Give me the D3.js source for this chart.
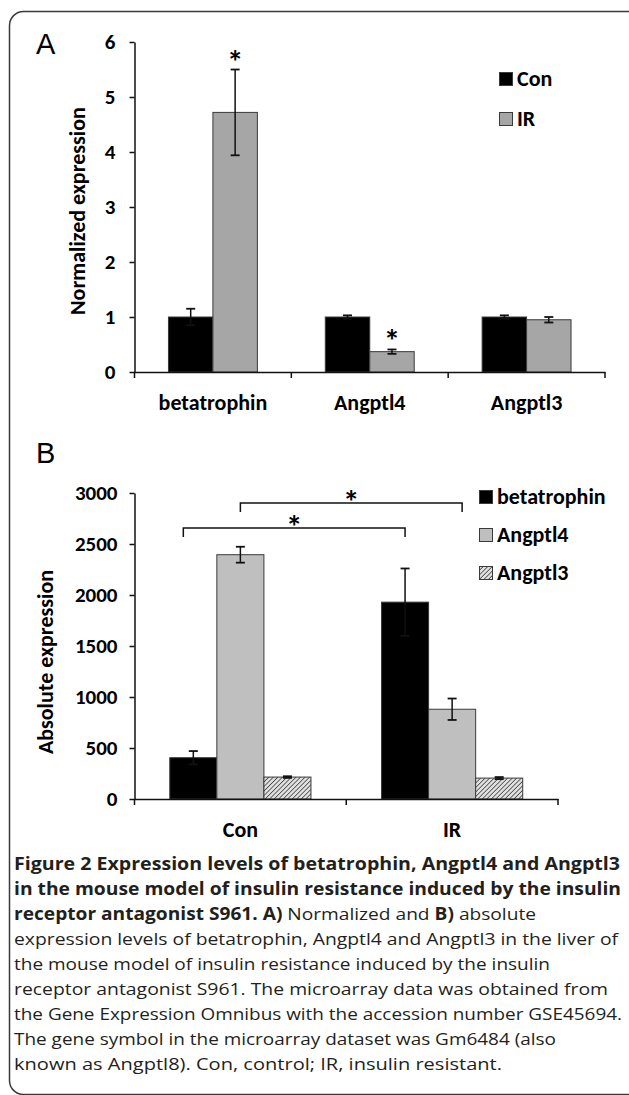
<!DOCTYPE html>
<html>
<head>
<meta charset="utf-8">
<script src="https://cdn.jsdelivr.net/npm/d3@7"></script>
<style>
  body { margin: 0; background: #fff; }
  svg { display: block; }
  .chart text { font-family: Carlito, Lato, "Open Sans", sans-serif; font-weight: bold; fill: #000; }
  .caption { font-family: "Open Sans", "Noto Sans", sans-serif; font-size: 17px; fill: #231f20; }
</style>
</head>
<body>
<svg id="fig" width="629" height="1095"></svg>
<script>
// panel A: normalized expression
const genesA = ["betatrophin", "Angptl4", "Angptl3"];
const groupsA = ["Con", "IR"];
const conA = [1, 1, 1];
const conErrA = [0.15, 0.03, 0.03];
const irA = [4.72, 0.37, 0.95];
const irErrA = [0.78, 0.04, 0.05];
const starsA = [[0, "IR"], [1, "IR"]];
const ticksA = [0, 1, 2, 3, 4, 5, 6];

// panel B: absolute expression
const groupsB = ["Con", "IR"];
const genesB = ["betatrophin", "Angptl4", "Angptl3"];
const betaB = [405, 1930];
const betaErrB = [65, 330];
const a4B = [2395, 880];
const a4ErrB = [78, 105];
const a3B = [215, 205];
const a3ErrB = [8, 10];
const ticksB = [0, 500, 1000, 1500, 2000, 2500, 3000];
// significance brackets: [group, gene] -> [group, gene]
const bracketsB = [
  [["Con", "betatrophin"], ["IR", "betatrophin"]],
  [["Con", "Angptl4"], ["IR", "Angptl4"]]
];

const captionLines = [
  [["Figure 2 Expression levels of betatrophin, Angptl4 and Angptl3", true]],
  [["in the mouse model of insulin resistance induced by the insulin", true]],
  [["receptor antagonist S961. A)", true], [" Normalized and ", false], ["B)", true], [" absolute", false]],
  [["expression levels of betatrophin, Angptl4 and Angptl3 in the liver of", false]],
  [["the mouse model of insulin resistance induced by the insulin", false]],
  [["receptor antagonist S961. The microarray data was obtained from", false]],
  [["the Gene Expression Omnibus with the accession number GSE45694.", false]],
  [["The gene symbol in the microarray dataset was Gm6484 (also", false]],
  [["known as Angptl8). Con, control; IR, insulin resistant.", false]]
];
const captionEnds = [620, 621, 536, 618, 550, 608, 622, 556, 502];

const svg = d3.select("#fig");

// frame (right and bottom edges run off the page)
svg.append("rect")
  .attr("x", 9.5).attr("y", 11.5)
  .attr("width", 640).attr("height", 1083)
  .attr("rx", 14)
  .attr("fill", "none")
  .attr("stroke", "#3a3a3a")
  .attr("stroke-width", 1.5);

const defs = svg.append("defs");
const hatch = defs.append("pattern")
  .attr("id", "hatch")
  .attr("patternUnits", "userSpaceOnUse")
  .attr("width", 3.2).attr("height", 3.2)
  .attr("patternTransform", "rotate(45)");
hatch.append("rect").attr("width", 3.2).attr("height", 3.2).attr("fill", "#e0e0e0");
hatch.append("line").attr("x1", 0).attr("y1", 0).attr("x2", 0).attr("y2", 3.2)
  .attr("stroke", "#3c3c3c").attr("stroke-width", 1.5);

const chart = svg.append("g").attr("class", "chart");

const errorBar = (g, cx, top, bottom) => {
  g.append("line").attr("x1", cx).attr("x2", cx).attr("y1", top).attr("y2", bottom)
    .attr("stroke", "#111").attr("stroke-width", 1.5);
  [top, bottom].forEach(yy => {
    g.append("line").attr("x1", cx - 4.5).attr("x2", cx + 4.5).attr("y1", yy).attr("y2", yy)
      .attr("stroke", "#111").attr("stroke-width", 1.8);
  });
}

const styleAxis = (ax, size) => {
  ax.select(".domain").attr("stroke", "#111").attr("stroke-width", 1.5);
  ax.selectAll(".tick line").attr("stroke", "#111").attr("stroke-width", 1.5);
  ax.selectAll(".tick text").style("font-size", size);
}

// ---------- Panel A ----------
{
  const g = chart.append("g");
  const x = d3.scaleBand().domain(genesA).range([134.5, 605]);
  const xs = d3.scaleBand().domain(groupsA).range([0, x.bandwidth()]).paddingOuter(0.764);
  const y = d3.scaleLinear().domain([0, 6]).range([372, 42]);

  const rows = genesA.map((gene, i) => ({
    gene,
    vals: [
      {grp: "Con", v: conA[i], e: conErrA[i], fill: "#000"},
      {grp: "IR", v: irA[i], e: irErrA[i], fill: "#a6a6a6"}
    ]
  }));

  g.append("text").attr("x", 36).attr("y", 54)
    .style("font-family", "'Liberation Sans', Arial, sans-serif")
    .style("font-weight", "normal").style("font-size", "29px").text("A");

  const bars = g.append("g");
  rows.forEach(r => {
    r.vals.forEach(d => {
      const bx = x(r.gene) + xs(d.grp);
      bars.append("rect")
        .attr("x", bx).attr("y", y(d.v))
        .attr("width", xs.bandwidth()).attr("height", y(0) - y(d.v))
        .attr("fill", d.fill).attr("stroke", "#3a3a3a").attr("stroke-width", 1);
      errorBar(bars, bx + xs.bandwidth() / 2, y(d.v + d.e), y(d.v - d.e));
    });
  });

  starsA.forEach(([i, grp]) => {
    const d = rows[i].vals.find(v => v.grp === grp);
    g.append("text")
      .attr("x", x(genesA[i]) + xs(grp) + xs.bandwidth() / 2)
      .attr("y", y(d.v + d.e) + 3)
      .attr("text-anchor", "middle").style("font-size", "33px").text("*");
  });

  const yAxis = g.append("g").attr("transform", "translate(134.5,0)")
    .call(d3.axisLeft(y).tickValues(ticksA).tickFormat(d3.format("d"))
      .tickSize(5).tickSizeOuter(0).tickPadding(14));
  styleAxis(yAxis, "21px");

  const xAxis = g.append("g").attr("transform", `translate(0,${y(0)})`)
    .call(d3.axisBottom(x).tickSize(0).tickPadding(22));
  styleAxis(xAxis, "22px");
  const bounds = x.domain().map(d => x(d)).concat([x.range()[1]]);
  g.append("g").selectAll("line").data(bounds).join("line")
    .attr("x1", d => d).attr("x2", d => d).attr("y1", y(0)).attr("y2", y(0) + 6)
    .attr("stroke", "#111").attr("stroke-width", 1.5);

  g.append("text")
    .attr("transform", `translate(85,${(y(0) + y(6)) / 2 + 4}) rotate(-90)`)
    .attr("text-anchor", "middle").style("font-size", "22px").text("Normalized expression");

  const leg = g.append("g").attr("transform", "translate(499,0)");
  [["Con", "#000", 79], ["IR", "#a6a6a6", 119]].forEach(([lab, col, cy]) => {
    leg.append("rect").attr("x", 0.5).attr("y", cy - 6.5).attr("width", 13).attr("height", 13)
      .attr("fill", col).attr("stroke", "#3a3a3a").attr("stroke-width", 1);
    leg.append("text").attr("x", 18).attr("y", cy + 7).style("font-size", "22px").text(lab);
  });
}

// ---------- Panel B ----------
{
  const g = chart.append("g");
  const x = d3.scaleBand().domain(groupsB).range([134.5, 558]);
  const xs = d3.scaleBand().domain(genesB).range([0, x.bandwidth()]).paddingOuter(0.75);
  const y = d3.scaleLinear().domain([0, 3000]).range([799, 493]);

  const series = [
    {gene: "betatrophin", vals: betaB, errs: betaErrB, fill: "#000"},
    {gene: "Angptl4", vals: a4B, errs: a4ErrB, fill: "#bfbfbf"},
    {gene: "Angptl3", vals: a3B, errs: a3ErrB, fill: "url(#hatch)"}
  ];
  const center = (grp, gene) => x(grp) + xs(gene) + xs.bandwidth() / 2;

  g.append("text").attr("x", 36).attr("y", 463)
    .style("font-family", "'Liberation Sans', Arial, sans-serif")
    .style("font-weight", "normal").style("font-size", "29px").text("B");

  const bars = g.append("g");
  series.forEach(s => {
    groupsB.forEach((grp, j) => {
      const v = s.vals[j], e = s.errs[j];
      bars.append("rect")
        .attr("x", x(grp) + xs(s.gene)).attr("y", y(v))
        .attr("width", xs.bandwidth()).attr("height", y(0) - y(v))
        .attr("fill", s.fill).attr("stroke", "#3a3a3a").attr("stroke-width", 1);
      errorBar(bars, center(grp, s.gene), y(v + e), y(v - e));
    });
  });

  // brackets
  const levels = [528, 503];
  bracketsB.forEach(([a, b], k) => {
    const x1 = center(a[0], a[1]) - 10 * (k === 0), x2 = center(b[0], b[1]) + 10 * (k === 1);
    const yy = levels[k];
    g.append("path")
      .attr("d", `M${x1},${yy + 9}V${yy}H${x2}V${yy + 9}`)
      .attr("fill", "none").attr("stroke", "#111").attr("stroke-width", 1.5);
    g.append("text").attr("x", (x1 + x2) / 2).attr("y", yy + 10)
      .attr("text-anchor", "middle").style("font-size", "33px").text("*");
  });

  const yAxis = g.append("g").attr("transform", "translate(134.5,0)")
    .call(d3.axisLeft(y).tickValues(ticksB).tickFormat(d3.format("d"))
      .tickSize(5).tickSizeOuter(0).tickPadding(12));
  styleAxis(yAxis, "21px");

  const xAxis = g.append("g").attr("transform", `translate(0,${y(0)})`)
    .call(d3.axisBottom(x).tickSize(0).tickPadding(22));
  styleAxis(xAxis, "22px");
  const bounds = x.domain().map(d => x(d)).concat([x.range()[1]]);
  g.append("g").selectAll("line").data(bounds).join("line")
    .attr("x1", d => d).attr("x2", d => d).attr("y1", y(0)).attr("y2", y(0) + 6)
    .attr("stroke", "#111").attr("stroke-width", 1.5);

  g.append("text")
    .attr("transform", `translate(53,${(y(0) + y(3000)) / 2 + 16}) rotate(-90)`)
    .attr("text-anchor", "middle").style("font-size", "22px").text("Absolute expression");

  const leg = g.append("g").attr("transform", "translate(479,0)");
  series.forEach((s, k) => {
    const cy = 497 + k * 38;
    leg.append("rect").attr("x", 0.5).attr("y", cy - 6.5).attr("width", 13).attr("height", 13)
      .attr("fill", s.fill).attr("stroke", "#3a3a3a").attr("stroke-width", 1);
    leg.append("text").attr("x", 18).attr("y", cy + 7).style("font-size", "22px").text(s.gene);
  });
}

// ---------- caption ----------
const cap = svg.append("g").attr("class", "caption");
captionLines.forEach((parts, i) => {
  const t = cap.append("text").attr("x", 14).attr("y", 870 + i * 25)
    .attr("textLength", captionEnds[i] - 14).attr("lengthAdjust", "spacingAndGlyphs");
  parts.forEach(([txt, bold]) => {
    t.append("tspan").style("font-weight", bold ? "bold" : "normal").text(txt);
  });
});
</script>
</body>
</html>
